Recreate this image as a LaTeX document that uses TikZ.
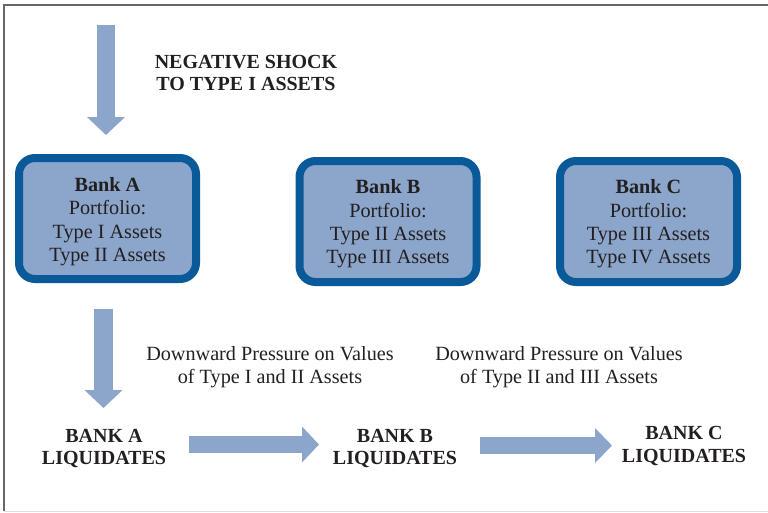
\documentclass[tikz,border=0pt]{standalone}
\usepackage{fontspec}
\setmainfont{Liberation Serif}
\usetikzlibrary{arrows.meta}
\definecolor{boxfill}{HTML}{8BA5CB}
\definecolor{boxline}{HTML}{0A5A9A}
\definecolor{ink}{HTML}{231F20}
\begin{document}
\begin{tikzpicture}[x=1pt,y=-1pt,
  bank/.style={draw=boxline, line width=8pt, fill=boxfill, rounded corners=16pt,
    minimum width=177pt, minimum height=121pt, inner sep=0pt},
  lbl/.style={align=center, text=ink, inner sep=0pt, font=\fontsize{20.2}{23.4}\selectfont},
  blbl/.style={align=center, text=ink, inner sep=0pt, font=\fontsize{20}{22.5}\selectfont\bfseries},
  blockarrow/.style={draw=boxfill, line width=18pt, -{Triangle[length=18pt, width=37pt]}}]
\useasboundingbox (0,0) rectangle (768,512);
\draw[gray!80!black, line width=1.2pt] (4,511) -- (4,5) -- (770,5);
\draw[gray!25, line width=1pt] (4,511) -- (770,511);

\node[bank] (bankA) at (107.5,218.5) {};
\node[bank] (bankB) at (388,221.5) {};
\node[bank] (bankC) at (648.5,221.5) {};
\node[lbl] (bankAtext) at (107.5,221.5) {\textbf{Bank A}\\Portfolio:\\Type I Assets\\Type II Assets};
\node[lbl] (bankBtext) at (388,224) {\textbf{Bank B}\\Portfolio:\\Type II Assets\\Type III Assets};
\node[lbl] (bankCtext) at (648.5,224) {\textbf{Bank C}\\Portfolio:\\Type III Assets\\Type IV Assets};

\node[blbl] (shock) at (246,73) {NEGATIVE SHOCK\\TO TYPE I ASSETS};
\node[lbl] (press1) at (270,367) {Downward Pressure on Values\\of Type I and II Assets};
\node[lbl] (press2) at (559,367) {Downward Pressure on Values\\of Type II and III Assets};

\node[blbl] (liqA) at (104,448.5) {BANK A\\LIQUIDATES};
\node[blbl] (liqB) at (395,448.5) {BANK B\\LIQUIDATES};
\node[blbl] (liqC) at (684,446) {BANK C\\LIQUIDATES};

\coordinate (s0) at (106,25);
\coordinate (s1) at (106,135);
\coordinate (d0) at (103.5,309);
\coordinate (d1) at (103.5,408);
\coordinate (h0) at (189,444.5);
\coordinate (h1) at (319,444.5);
\coordinate (k0) at (480,445.5);
\coordinate (k1) at (612,445.5);

\draw[blockarrow] (s0) -- (s1);
\draw[blockarrow, line width=19pt] (d0) -- (d1);
\draw[blockarrow, line width=17pt, -{Triangle[length=17pt, width=35pt]}] (h0) -- (h1);
\draw[blockarrow, line width=17pt, -{Triangle[length=17pt, width=34pt]}] (k0) -- (k1);
\end{tikzpicture}
\end{document}
